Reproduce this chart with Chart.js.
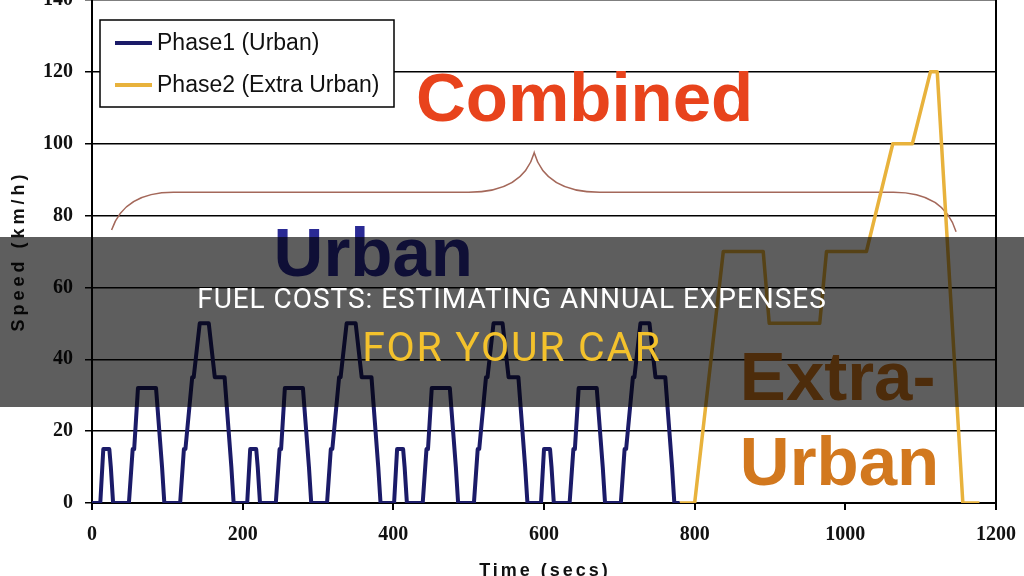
<!DOCTYPE html>
<html>
<head>
<meta charset="utf-8">
<title>Fuel Costs</title>
<script src="https://cdn.jsdelivr.net/npm/chart.js@4/dist/chart.umd.min.js"></script>
<style>
  html, body { margin: 0; padding: 0; width: 1024px; height: 576px; overflow: hidden; background: #fff; }
  #wrap { position: absolute; left: 0; top: -24px; width: 1024px; height: 624px; }
  .banner { position: absolute; left: 0; top: 237px; width: 1024px; height: 170px; background: rgba(0, 0, 0, 0.63); }
  .banner .l1, .banner .l2 { position: absolute; left: 0; width: 1024px; text-align: center; font-family: Roboto, sans-serif; white-space: nowrap; }
  .banner .l1 { top: 48px; font-size: 28px; line-height: 28px; letter-spacing: 0.95px; color: #fff; }
  .banner .l2 { top: 90px; font-size: 41px; line-height: 41px; letter-spacing: 1.7px; color: #f4c22c; }
</style>
</head>
<body>
<div id="wrap"><canvas id="chart"></canvas></div>
<div class="banner">
  <div class="l1">FUEL COSTS: ESTIMATING ANNUAL EXPENSES</div>
  <div class="l2">FOR YOUR CAR</div>
</div>
<script>
// Phase 1: four urban (ECE-15) cycles, seconds / km/h
const urbanTime = [
  0, 11, 15, 23, 25, 28, 49, 54, 56, 61, 85, 93, 96, 117, 122, 124, 133, 135, 143, 155, 163, 176, 185, 188, 195,
  206, 210, 218, 220, 223, 244, 249, 251, 256, 280, 288, 291, 312, 317, 319, 328, 330, 338, 350, 358, 371, 380, 383, 390,
  401, 405, 413, 415, 418, 439, 444, 446, 451, 475, 483, 486, 507, 512, 514, 523, 525, 533, 545, 553, 566, 575, 578, 585,
  596, 600, 608, 610, 613, 634, 639, 641, 646, 670, 678, 681, 702, 707, 709, 718, 720, 728, 740, 748, 761, 770, 773, 780
];
const urbanSpeed = [
  0, 0, 15, 15, 10, 0, 0, 15, 15, 32, 32, 10, 0, 0, 15, 15, 35, 35, 50, 50, 35, 35, 10, 0, 0,
  0, 15, 15, 10, 0, 0, 15, 15, 32, 32, 10, 0, 0, 15, 15, 35, 35, 50, 50, 35, 35, 10, 0, 0,
  0, 15, 15, 10, 0, 0, 15, 15, 32, 32, 10, 0, 0, 15, 15, 35, 35, 50, 50, 35, 35, 10, 0, 0,
  0, 15, 15, 10, 0, 0, 15, 15, 32, 32, 10, 0, 0, 15, 15, 35, 35, 50, 50, 35, 35, 10, 0, 0
];

// Phase 2: extra urban cycle
const extraTime = [780, 800, 838, 891, 899, 966, 975, 1028, 1063, 1089, 1113, 1122, 1156, 1178];
const extraSpeed = [0, 0, 70, 70, 50, 50, 70, 70, 100, 100, 120, 120, 0, 0];

const seriesLabels = ['Phase1 (Urban)', 'Phase2 (Extra Urban)'];
const seriesColors = ['#1b1b68', '#e8b23c'];

const xTicks = [0, 200, 400, 600, 800, 1000, 1200];
const yTicks = [0, 20, 40, 60, 80, 100, 120, 140];

const toPoints = (xs, ys) => xs.map((x, i) => ({ x: x, y: ys[i] }));

// brace over the whole cycle, in data units
const braceLeft = [[26, 76], [43, 86.5], [108, 86.5]];
const braceMid = [[500, 86.5], [572, 86.5], [587, 97.5], [602, 86.5], [674, 86.5]];
const braceRight = [[1064, 86.5], [1131, 86.5], [1147, 75.5]];

const overlay = {
  id: 'overlay',
  beforeDatasetsDraw(chart) {
    const { ctx } = chart;
    const xs = chart.scales.x, ys = chart.scales.y;
    const px = (t, v) => [xs.getPixelForValue(t), ys.getPixelForValue(v)];

    // big labels
    ctx.save();
    ctx.font = 'bold 69px "Liberation Sans", Arial, sans-serif';
    ctx.textBaseline = 'alphabetic';
    ctx.textAlign = 'left';
    let p = px(430, 106.4);
    ctx.fillStyle = '#e8431c';
    ctx.fillText('Combined', p[0], p[1]);
    p = px(241, 63.1);
    ctx.fillStyle = '#2a2a94';
    ctx.fillText('Urban', p[0], p[1]);
    p = px(860, 28.8);
    ctx.fillStyle = '#d2781e';
    ctx.fillText('Extra-', p[0], p[1]);
    p = px(860, 4.9);
    ctx.fillText('Urban', p[0], p[1]);

    // brace
    ctx.strokeStyle = '#a4685a';
    ctx.lineWidth = 1.5;
    ctx.beginPath();
    let a = px(...braceLeft[0]), b = px(...braceLeft[1]), c = px(...braceLeft[2]);
    ctx.moveTo(a[0], a[1]);
    ctx.quadraticCurveTo(b[0], b[1], c[0], c[1]);
    a = px(...braceMid[0]); b = px(...braceMid[1]); c = px(...braceMid[2]);
    ctx.lineTo(a[0], a[1]);
    ctx.quadraticCurveTo(b[0], b[1], c[0], c[1]);
    a = px(...braceMid[3]); b = px(...braceMid[4]);
    ctx.quadraticCurveTo(a[0], a[1], b[0], b[1]);
    a = px(...braceRight[0]); b = px(...braceRight[1]); c = px(...braceRight[2]);
    ctx.lineTo(a[0], a[1]);
    ctx.quadraticCurveTo(b[0], b[1], c[0], c[1]);
    ctx.stroke();
    ctx.restore();
  },
  afterDatasetsDraw(chart) {
    const { ctx, chartArea } = chart;
    ctx.save();
    // right frame line
    ctx.strokeStyle = '#000';
    ctx.lineWidth = 2;
    ctx.beginPath();
    ctx.moveTo(chartArea.right, chartArea.top);
    ctx.lineTo(chartArea.right, chartArea.bottom + 7);
    ctx.stroke();

    // legend box
    const lx = chartArea.left + 8, ly = chartArea.top + 20;
    ctx.fillStyle = '#fff';
    ctx.fillRect(lx, ly, 294, 87);
    ctx.lineWidth = 1.5;
    ctx.strokeRect(lx, ly, 294, 87);
    ctx.font = '23px "Liberation Sans", Arial, sans-serif';
    ctx.textBaseline = 'middle';
    chart.data.datasets.forEach((ds, i) => {
      const yy = ly + 23 + i * 42;
      ctx.strokeStyle = ds.borderColor;
      ctx.lineWidth = 4;
      ctx.beginPath();
      ctx.moveTo(lx + 15, yy);
      ctx.lineTo(lx + 52, yy);
      ctx.stroke();
      ctx.fillStyle = '#111';
      ctx.fillText(ds.label, lx + 57, yy + 1);
    });

    // axis titles
    ctx.fillStyle = '#111';
    ctx.font = 'bold 18px "Liberation Sans", Arial, sans-serif';
    ctx.letterSpacing = '4px';
    ctx.textAlign = 'center';
    ctx.textBaseline = 'middle';
    ctx.save();
    ctx.translate(19, chartArea.top + 251);
    ctx.rotate(-Math.PI / 2);
    ctx.fillText('Speed (km/h)', 0, 0);
    ctx.restore();
    ctx.letterSpacing = '3px';
    ctx.textBaseline = 'alphabetic';
    ctx.fillText('Time (secs)', 545, chartArea.bottom + 73);
    ctx.restore();
  }
};

new Chart(document.getElementById('chart'), {
  type: 'line',
  data: {
    datasets: [
      {
        label: seriesLabels[0],
        data: toPoints(urbanTime, urbanSpeed),
        borderColor: seriesColors[0],
        borderWidth: 4,
        pointRadius: 0,
        tension: 0,
        borderJoinStyle: 'round'
      },
      {
        label: seriesLabels[1],
        data: toPoints(extraTime, extraSpeed),
        borderColor: seriesColors[1],
        borderWidth: 3.5,
        pointRadius: 0,
        tension: 0,
        borderJoinStyle: 'round'
      }
    ]
  },
  options: {
    responsive: true,
    maintainAspectRatio: false,
    animation: false,
    layout: { padding: { top: 21, right: 28, bottom: 0, left: 0 } },
    plugins: { legend: { display: false }, tooltip: { enabled: false } },
    scales: {
      x: {
        type: 'linear',
        min: xTicks[0],
        max: xTicks[xTicks.length - 1],
        afterBuildTicks: s => { s.ticks = xTicks.map(v => ({ value: v })); },
        afterFit: s => { s.height = 97; s.paddingLeft = 0; s.paddingRight = 0; },
        grid: { drawOnChartArea: false, drawTicks: true, tickLength: 7, color: '#000', lineWidth: 2 },
        border: { color: '#000', width: 2 },
        ticks: {
          color: '#111', padding: 13, maxRotation: 0,
          callback: v => String(v),
          font: { family: '"Liberation Serif", "Times New Roman", serif', size: 20, weight: 'bold' }
        }
      },
      y: {
        min: yTicks[0],
        max: yTicks[yTicks.length - 1],
        afterBuildTicks: s => { s.ticks = yTicks.map(v => ({ value: v })); },
        afterFit: s => { s.width = 92; },
        grid: { color: '#000', lineWidth: 1.5, tickLength: 7 },
        border: { color: '#000', width: 2 },
        ticks: { color: '#111', padding: 12, font: { family: '"Liberation Serif", "Times New Roman", serif', size: 20, weight: 'bold' } }
      }
    }
  },
  plugins: [overlay]
});
</script>
</body>
</html>
